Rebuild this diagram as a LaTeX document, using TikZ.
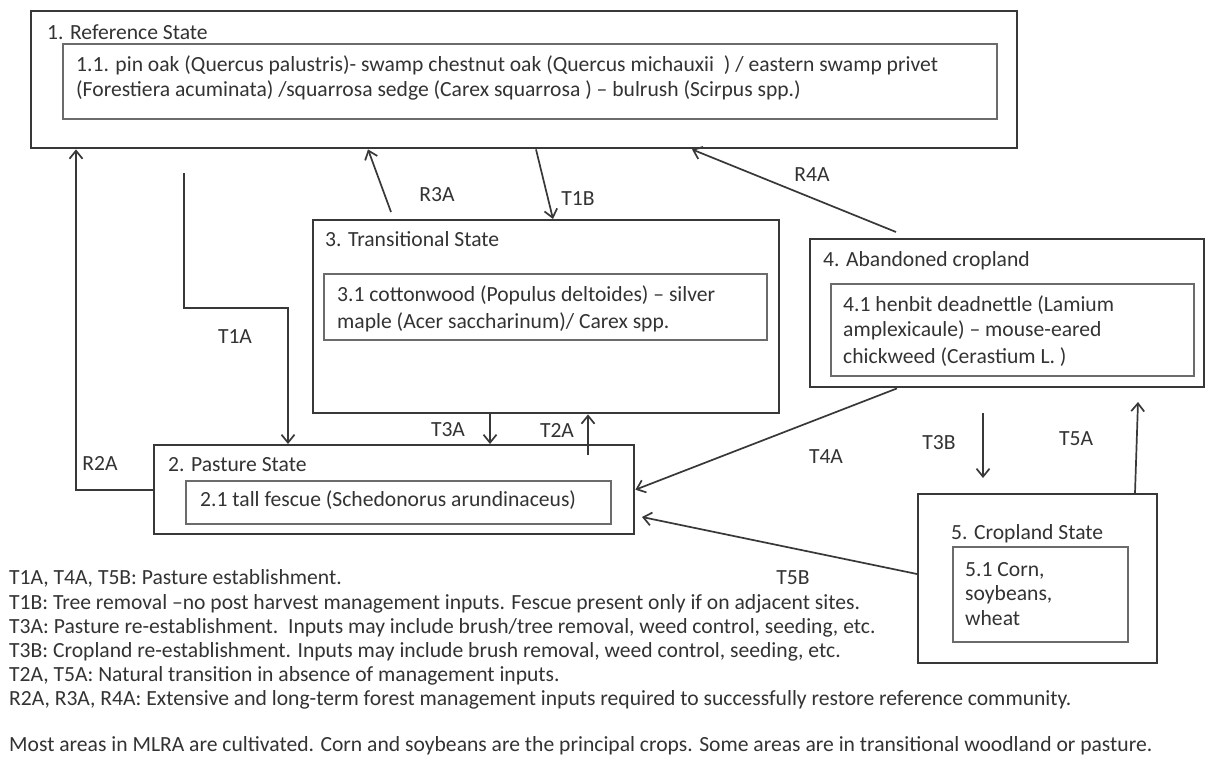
\documentclass[tikz,border=0pt]{standalone}
\usepackage{fontspec}
\setmainfont{Carlito}
\usetikzlibrary{arrows.meta,calc}
\definecolor{txt}{gray}{0.2}
\definecolor{ln}{gray}{0.22}
\definecolor{inln}{gray}{0.42}
\newcommand\fs{\fontsize{21.6}{25.5}\selectfont}
\begin{document}
\begin{tikzpicture}[x=1pt,y=-1pt,
  outerbox/.style={draw=ln,line width=2.4pt,anchor=north west,inner sep=0,fill=none},
  innerbox/.style={draw=inln,line width=2pt,anchor=north west,inner sep=0},
  txtline/.style={font=\fs,text=txt,inner sep=0,anchor=base west},
  lab/.style={font=\fs,text=txt,inner sep=0},
  arr/.style={draw=ln,line width=1.7pt,-{Straight Barb[length=8pt,width=13pt]}}]
\fill[white] (0,0) rectangle (1209,771);
\useasboundingbox (0,0) rectangle (1209,771);

% boxes
\node[outerbox,minimum width=986pt,minimum height=137pt] (b1) at (30,10) {};
\node[innerbox,minimum width=934pt,minimum height=75pt] (i1) at (62,43) {};
\node[outerbox,minimum width=480pt,minimum height=89pt] (b2) at (153,444) {};
\node[innerbox,minimum width=425pt,minimum height=43pt] (i2) at (185,480) {};
\node[outerbox,minimum width=466pt,minimum height=193pt] (b3) at (312,219) {};
\node[innerbox,minimum width=443pt,minimum height=66pt] (i3) at (323,273) {};
\node[outerbox,minimum width=394pt,minimum height=148pt] (b4) at (809,238) {};
\node[innerbox,minimum width=363pt,minimum height=92pt] (i4) at (830,283) {};
\node[outerbox,minimum width=239pt,minimum height=169pt] (b5) at (917,493) {};
\node[innerbox,minimum width=175pt,minimum height=95pt] (i5) at (952,546) {};

% titles and texts
\node[txtline] (h1) at (47,39) {1. Reference State};
\node[txtline] (p1a) at (76,71) {1.1. pin oak (Quercus palustris)- swamp chestnut oak (Quercus michauxii~~) / eastern swamp privet};
\node[txtline] (p1b) at (76,96) {(Forestiera acuminata) /squarrosa sedge (Carex squarrosa )~– bulrush (Scirpus spp.)};
\node[txtline] (h2) at (168,471) {2. Pasture State};
\node[txtline] (p2a) at (200,506) {2.1 tall fescue (Schedonorus arundinaceus)};
\node[txtline] (h3) at (325,246) {3. Transitional State};
\node[txtline] (p3a) at (337,301) {3.1 cottonwood (Populus deltoides) – silver};
\node[txtline] (p3b) at (337,328) {maple (Acer saccharinum)/ Carex spp.};
\node[txtline] (h4) at (823,266) {4. Abandoned cropland};
\node[txtline] (p4a) at (843,311) {4.1 henbit deadnettle (Lamium};
\node[txtline] (p4b) at (843,336) {amplexicaule) – mouse-eared};
\node[txtline] (p4c) at (843,363) {chickweed (Cerastium L. )};
\node[txtline] (h5) at (951,539) {5. Cropland State};
\node[txtline] (p5a) at (965,576) {5.1 Corn,};
\node[txtline] (p5b) at (965,600) {soybeans,};
\node[txtline] (p5c) at (965,625) {wheat};

% connectors
\draw[arr] (b2.west) -| (76,0 |- b1.south);
\coordinate (t1aStart) at (184,173);
\draw[arr] (t1aStart) |- (288,308) -- (288,0 |- b2.north);
\coordinate (r3aTail) at (391,212);
\draw[arr] (r3aTail) -- (368,0 |- b1.south);
\draw[arr] (536,0 |- b1.south) -- (553,0 |- b3.north);
\coordinate (r4aTail) at (896,232);
\draw[arr] (r4aTail) -- (692,0 |- b1.south);
\draw[arr] (490,0 |- b3.south) -- (490,0 |- b2.north);
\coordinate (t2aTail) at (588,455);
\draw[arr] (t2aTail) -- (588,0 |- b3.south);
\draw[arr] (897,0 |- b4.south) -- (b2.east);
\coordinate (t5bTip) at (642,517);
\draw[arr] (b5.west |- 0,574) -- (t5bTip);
\coordinate (t3bA) at (983,413);
\coordinate (t3bB) at (983,478);
\draw[arr] (t3bA) -- (t3bB);
\coordinate (t5aTip) at (1138,402);
\draw[arr] (1135,0 |- b5.north) -- (t5aTip);

% connector labels
\node[lab] (lR2A) at (100,463) {R2A};
\node[lab] (lT1A) at (235,337) {T1A};
\node[lab] (lR3A) at (437,195) {R3A};
\node[lab] (lT1B) at (578,199) {T1B};
\node[lab] (lR4A) at (812,175) {R4A};
\node[lab] (lT3A) at (448,430) {T3A};
\node[lab] (lT2A) at (557,430) {T2A};
\node[lab] (lT4A) at (826,457) {T4A};
\node[lab] (lT5B) at (793,578) {T5B};
\node[lab] (lT3B) at (939,443) {T3B};
\node[lab] (lT5A) at (1076,439) {T5A};

% legend
\node[txtline] (g1) at (9,584) {T1A, T4A, T5B: Pasture establishment.};
\node[txtline] (g2) at (9,609) {T1B: Tree removal –no post harvest management inputs. Fescue present only if on adjacent sites.};
\node[txtline] (g3) at (9,633) {T3A: Pasture re-establishment.\ \ Inputs may include brush/tree removal, weed control, seeding, etc.};
\node[txtline] (g4) at (9,657) {T3B: Cropland re-establishment. Inputs may include brush removal, weed control, seeding, etc.};
\node[txtline] (g5) at (9,681) {T2A, T5A: Natural transition in absence of management inputs.};
\node[txtline] (g6) at (9,705) {R2A, R3A, R4A: Extensive and long-term forest management inputs required to successfully restore reference community.};
\node[txtline] (g7) at (9,751) {Most areas in MLRA are cultivated. Corn and soybeans are the principal crops. Some areas are in transitional woodland or pasture.};
\end{tikzpicture}
\end{document}
